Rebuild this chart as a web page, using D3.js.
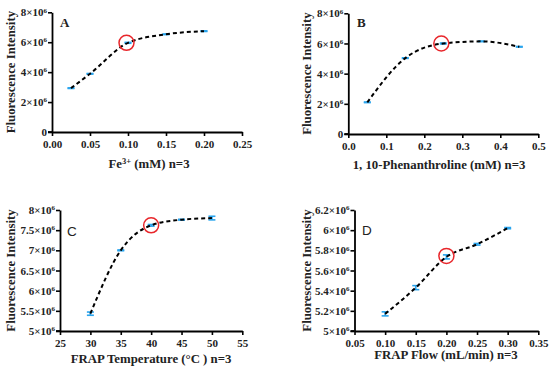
<!DOCTYPE html>
<html><head><meta charset="utf-8">
<script src="https://cdn.jsdelivr.net/npm/d3@7"></script>
<style>
html,body{margin:0;padding:0;background:#fff;}
svg{display:block;font-family:"Liberation Serif",serif;}
</style></head>
<body>
<svg id="c" width="550" height="372"></svg>
<script>
// ---- data ----
const aX = [0.025, 0.05, 0.10, 0.15, 0.20];
const aY = [2.93e6, 3.89e6, 5.96e6, 6.53e6, 6.74e6];
const aErr = [0.02e6, 0.02e6, 0.03e6, 0.02e6, 0.02e6];
const aXTicks = [0, 0.05, 0.10, 0.15, 0.20, 0.25];
const aYTicks = [0, 2e6, 4e6, 6e6, 8e6];

const bX = [0.05, 0.15, 0.25, 0.35, 0.45];
const bY = [2.1e6, 5.03e6, 6.0e6, 6.14e6, 5.78e6];
const bErr = [0.02e6, 0.02e6, 0.03e6, 0.02e6, 0.02e6];
const bXTicks = [0, 0.1, 0.2, 0.3, 0.4, 0.5];
const bYTicks = [0, 2e6, 4e6, 6e6, 8e6];

const cX = [30, 35, 40, 45, 50];
const cY = [5.43e6, 7.0e6, 7.62e6, 7.76e6, 7.8e6];
const cErr = [0.04e6, 0.01e6, 0.02e6, 0.01e6, 0.045e6];
const cXTicks = [25, 30, 35, 40, 45, 50, 55];
const cYTicks = [5e6, 5.5e6, 6e6, 6.5e6, 7e6, 7.5e6, 8e6];

const dX = [0.10, 0.15, 0.20, 0.25, 0.30];
const dY = [5.17e6, 5.43e6, 5.735e6, 5.86e6, 6.02e6];
const dErr = [0.02e6, 0.02e6, 0.02e6, 0.008e6, 0.006e6];
const dXTicks = [0.05, 0.10, 0.15, 0.20, 0.25, 0.30, 0.35];
const dYTicks = [5e6, 5.2e6, 5.4e6, 5.6e6, 5.8e6, 6e6, 6.2e6];

const panels = [
  {label:"A", lblFont:"serif", x:aX, y:aY, err:aErr, xt:aXTicks, yt:aYTicks, xfmt:d3.format(".2f"),
   xd:[0,0.25], yd:[0,8e6], px:[52,242], py:[132,12.3], title:"Fe", sup:"3+", titleRest:" (mM) n=3",
   tcx:149, tby:168, ytx:15, lx:60, ly:27, sel:2, ldx:-1.5, ldy:0},
  {label:"B", lblFont:"serif", x:bX, y:bY, err:bErr, xt:bXTicks, yt:bYTicks, xfmt:d3.format(".1f"),
   xd:[0,0.5], yd:[0,8e6], px:[348.3,538.3], py:[134,13.3], title:"1, 10-Phenanthroline (mM) n=3",
   tcx:439, tby:169, ytx:311, lx:357, ly:27, sel:2, ldx:-2, ldy:0},
  {label:"C", lblFont:"sans", x:cX, y:cY, err:cErr, xt:cXTicks, yt:cYTicks, xfmt:d3.format("d"),
   xd:[25,55], yd:[5e6,8e6], px:[60,242.3], py:[331,210], title:"FRAP Temperature (\u00B0C ) n=3",
   tcx:151, tby:363, ytx:15, lx:67, ly:236, sel:2, ldx:0, ldy:0},
  {label:"D", lblFont:"sans", x:dX, y:dY, err:dErr, xt:dXTicks, yt:dYTicks, xfmt:d3.format(".2f"),
   xd:[0.05,0.35], yd:[5e6,6.2e6], px:[354.5,538.3], py:[331,210], title:"FRAP Flow (mL/min) n=3",
   tcx:446, tby:359, ytx:311, lx:362, ly:235, sel:2, ldx:0, ldy:-1}
];

const svg = d3.select("#c");
const blue = "#2aa5ee";

function yLabel(sel, v){
  sel.text(null);
  if (v === 0){ sel.text("0"); return; }
  const m = v/1e6;
  const ms = (Math.round(m*10)/10).toString();
  sel.append("tspan").text(ms + "\u00D710");
  sel.append("tspan").attr("dy", -3.8).attr("font-size", 7).text("6");
}

panels.forEach(p => {
  const g = svg.append("g");
  const x = d3.scaleLinear().domain(p.xd).range(p.px);
  const y = d3.scaleLinear().domain(p.yd).range(p.py);

  const xa = g.append("g").attr("transform", `translate(0,${p.py[0]})`)
    .call(d3.axisBottom(x).tickValues(p.xt).tickFormat(p.xfmt).tickSize(4).tickSizeOuter(0));
  const ya = g.append("g").attr("transform", `translate(${p.px[0]},0)`)
    .call(d3.axisLeft(y).tickValues(p.yt).tickSize(4).tickSizeOuter(0));
  [xa, ya].forEach(a => {
    a.select(".domain").attr("stroke", "#000").attr("stroke-width", 1.8);
    a.selectAll(".tick line").attr("stroke", "#000").attr("stroke-width", 1.6);
    a.selectAll("text").attr("font-family", "Liberation Serif, serif").attr("font-weight", "bold")
      .attr("font-size", 11).attr("fill", "#222");
  });
  xa.selectAll(".tick text").attr("y", 8);
  ya.selectAll(".tick text").attr("x", -5).each(function(d){ yLabel(d3.select(this), d); });
  g.append("line").attr("x1", p.px[0]-4).attr("x2", p.px[0]).attr("y1", p.py[0]).attr("y2", p.py[0])
    .attr("stroke", "#000").attr("stroke-width", 1.8);

  // axis titles
  const t = g.append("text").attr("x", p.tcx).attr("y", p.tby).attr("text-anchor", "middle")
    .attr("font-weight", "bold").attr("font-size", 12.8).attr("fill", "#222");
  if (p.sup){
    t.append("tspan").text(p.title);
    t.append("tspan").attr("dy", -4.5).attr("font-size", 8.5).text(p.sup);
    t.append("tspan").attr("dy", 4.5).text(p.titleRest);
  } else t.text(p.title);

  const ymid = (p.py[0] + p.py[1]) / 2;
  g.append("text").attr("transform", `translate(${p.ytx},${ymid}) rotate(-90)`)
    .attr("text-anchor", "middle").attr("font-weight", "bold").attr("font-size", 12.8)
    .attr("fill", "#222").text("Fluorescence Intensity");

  // panel label
  g.append("text").attr("x", p.lx).attr("y", p.ly)
    .attr("font-family", p.lblFont === "sans" ? "Liberation Sans, Arial, sans-serif" : "Liberation Serif, serif")
    .attr("font-weight", p.lblFont === "sans" ? "normal" : "bold")
    .attr("font-size", p.lblFont === "sans" ? 13.5 : 13).attr("fill", "#222").text(p.label);

  const pts = p.x.map((v, i) => ({x: v, y: p.y[i], e: p.err[i]}));

  const eb = g.append("g").attr("stroke", blue).attr("stroke-width", 1.6);
  pts.forEach(d => {
    const cx = x(d.x), y1 = y(d.y + d.e), y2 = y(d.y - d.e);
    eb.append("line").attr("x1", cx).attr("x2", cx).attr("y1", y1).attr("y2", y2);
    eb.append("line").attr("x1", cx-3.5).attr("x2", cx+3.5).attr("y1", y1).attr("y2", y1);
    eb.append("line").attr("x1", cx-3.5).attr("x2", cx+3.5).attr("y1", y2).attr("y2", y2);
  });

  const line = d3.line().x(d => x(d.x)).y(d => y(d.y)).curve(d3.curveMonotoneX);
  g.append("path").datum(pts).attr("d", line).attr("fill", "none").attr("stroke", "#000")
    .attr("stroke-width", 2).attr("stroke-dasharray", "4,3");

  const s = pts[p.sel];
  g.append("circle").attr("cx", x(s.x) + p.ldx).attr("cy", y(s.y) + p.ldy).attr("r", 7.5)
    .attr("fill", "none").attr("stroke", "#e8262b").attr("stroke-width", 1.5);
});
</script>
</body></html>
